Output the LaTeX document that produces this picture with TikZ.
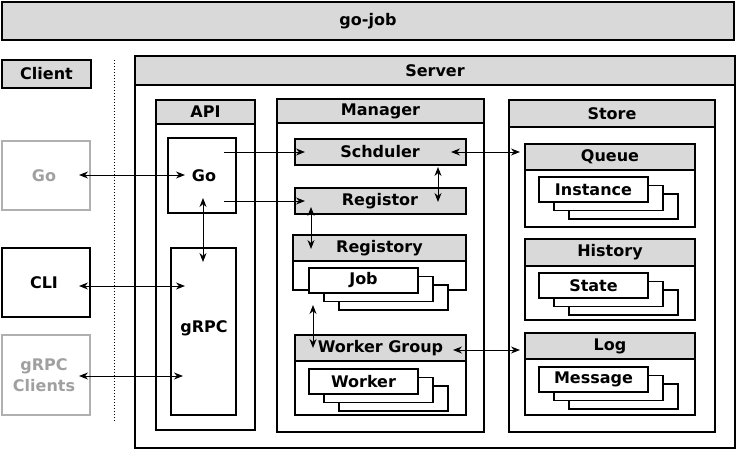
\documentclass[tikz,border=0pt]{standalone}
\usepackage{fontspec}
\setmainfont{DejaVu Sans}
\usetikzlibrary{arrows.meta}
\definecolor{hdr}{HTML}{D9D9D9}
\definecolor{fadeline}{HTML}{B0B0B0}
\definecolor{fadetext}{HTML}{A0A0A0}
\tikzset{
  box/.style={draw=black,line width=1.1pt,fill=white},
  hbox/.style={draw=black,line width=1.1pt,fill=hdr},
  lbl/.style={font=\fontsize{16}{18}\selectfont\bfseries,inner sep=0pt},
  conn/.style={line width=1pt,{Stealth[length=9pt,width=7pt]}-{Stealth[length=9pt,width=7pt]}},
  oneway/.style={line width=1pt,-{Stealth[length=9pt,width=7pt]}},
}
\newcommand{\panel}[7]{%
  \draw[box] (#2,#3) rectangle (#4,#5);
  \draw[hbox] (#2,#3) rectangle (#4,#6);
  \node[lbl] (#1) at ({(#2+#4)/2},{(#3+#6)/2}) {#7};}
\newcommand{\stack}[4]{%
  \draw[box] (#2+30,#3+17) rectangle (#2+139,#3+42);
  \draw[box] (#2+15,#3+8.5) rectangle (#2+124,#3+33.5);
  \draw[box] (#2,#3) rectangle (#2+109,#3+25);
  \node[lbl] (#1) at (#2+54.5,#3+12.5) {#4};}
\begin{document}
\begin{tikzpicture}[x=1pt,y=-1pt]
\useasboundingbox (0,0) rectangle (736,450);
% title
\draw[hbox] (2,2) rectangle (734,40);
\node[lbl] (title) at (368,21) {go-job};
% client
\draw[hbox] (2,60) rectangle (91,88);
\node[lbl] (client) at (46.5,74) {Client};
\draw[line width=1pt,dotted] (114,60) -- (114,422);
\draw[draw=fadeline,line width=1.1pt] (2,141) rectangle (90,210);
\node[lbl,text=fadetext] (cgo) at (44,176) {Go};
\draw[box] (2,248) rectangle (90,317);
\node[lbl] (ccli) at (44,283) {CLI};
\draw[draw=fadeline,line width=1.1pt] (2,335) rectangle (90,415);
\node[lbl,text=fadetext,align=center,font=\fontsize{16}{21}\selectfont\bfseries] (cgrpc) at (44,375) {gRPC\\Clients};
% server
\panel{server}{135}{56}{735}{448}{85}{Server}
\panel{api}{156}{100}{255}{430}{124}{API}
\draw[box] (168,138) rectangle (236,213);
\node[lbl] (ago) at (204,176) {Go};
\draw[box] (171,248) rectangle (236,415);
\node[lbl] (agrpc) at (204,328) {gRPC};
\panel{manager}{277}{99}{484}{432}{123}{Manager}
\draw[hbox] (295,139) rectangle (466,165);
\node[lbl] (sched) at (380,152) {Schduler};
\draw[hbox] (295,188) rectangle (466,214);
\node[lbl] (reg) at (380,201) {Registor};
\panel{registory}{293}{235}{466}{290}{261}{Registory}
\stack{job}{309}{268}{Job}
\panel{wg}{295}{335}{466}{415}{361}{Worker Group}
\stack{worker}{309}{369}{Worker}
\panel{store}{509}{100}{715}{432}{127}{Store}
\panel{queue}{525}{144}{695}{227}{170}{Queue}
\stack{inst}{539}{177}{Instance}
\panel{hist}{525}{239}{695}{320}{266}{History}
\stack{state}{539}{273}{State}
\panel{log}{525}{333}{695}{415}{359}{Log}
\stack{msg}{539}{367}{Message}
% connector end points
\coordinate (p1) at (79,175); \coordinate (p2) at (185,175);
\coordinate (p3) at (79,286); \coordinate (p4) at (185,286);
\coordinate (p5) at (79,376); \coordinate (p6) at (183,376);
\coordinate (p7) at (203,198); \coordinate (p8) at (203,262);
\coordinate (p9) at (224,152); \coordinate (p10) at (305,152);
\coordinate (p11) at (224,201); \coordinate (p12) at (305,201);
\coordinate (p13) at (451,152); \coordinate (p14) at (520,152);
\coordinate (p15) at (438,167); \coordinate (p16) at (438,202);
\coordinate (p17) at (311,207); \coordinate (p18) at (311,249);
\coordinate (p19) at (313,305); \coordinate (p20) at (313,348);
\coordinate (p21) at (453,350); \coordinate (p22) at (520,350);
\draw[conn] (p1) -- (p2);
\draw[conn] (p3) -- (p4);
\draw[conn] (p5) -- (p6);
\draw[conn] (p7) -- (p8);
\draw[oneway] (p9) -- (p10);
\draw[oneway] (p11) -- (p12);
\draw[conn] (p13) -- (p14);
\draw[conn] (p15) -- (p16);
\draw[conn] (p17) -- (p18);
\draw[conn] (p19) -- (p20);
\draw[conn] (p21) -- (p22);
\end{tikzpicture}
\end{document}
